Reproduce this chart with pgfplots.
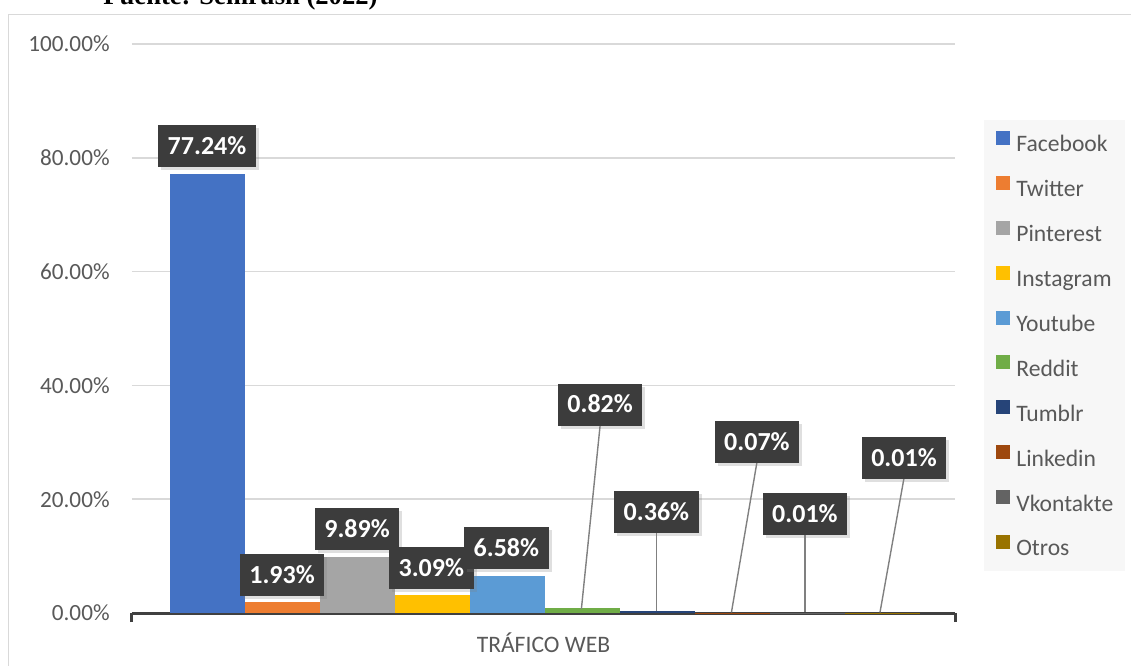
\documentclass[border=0pt]{standalone}
\usepackage{pgfplots}
\pgfplotsset{compat=1.18}
\usepackage{fontspec}
\setmainfont{Carlito}
\newfontfamily\titlefont{Liberation Serif}
\usetikzlibrary{shadows}

\definecolor{cFB}{HTML}{4472C4}
\definecolor{cTW}{HTML}{ED7D31}
\definecolor{cPI}{HTML}{A5A5A5}
\definecolor{cIG}{HTML}{FFC000}
\definecolor{cYT}{HTML}{5B9BD5}
\definecolor{cRD}{HTML}{70AD47}
\definecolor{cTU}{HTML}{264478}
\definecolor{cLI}{HTML}{9E480E}
\definecolor{cVK}{HTML}{636363}
\definecolor{cOT}{HTML}{997300}
\definecolor{txt}{HTML}{595959}
\definecolor{gridc}{HTML}{D9D9D9}
\definecolor{labelbg}{HTML}{3C3C3C}

% label positions (x, y) and value shown
\pgfplotstableread{
x     y      v
1.00  82.10  77.24
2.00  6.68   1.93
3.00  14.76  9.89
3.99  7.90   3.09
4.99  11.40  6.58
6.24  36.60  0.82
6.99  17.75  0.36
8.33  30.05  0.07
8.97  17.40  0.01
10.29 27.20  0.01
}\labels

\begin{document}
\begin{tikzpicture}
\begin{axis}[
  at={(0,0)}, anchor=south west,
  scale only axis, width=411.5pt, height=284.5pt,
  xmin=0, xmax=10.97, ymin=0, ymax=100,
  axis line style={draw=none},
  tick pos=left, tick align=outside, major tick length=4.5pt,
  xtick={0,10.97}, xticklabels={,},
  xtick style={draw=black!75, line width=1.5pt},
  ytick={0,20,...,100}, ytick style={draw=none},
  ymajorgrids, grid style={gridc, line width=0.75pt},
  extra y ticks={0}, extra y tick labels={},
  extra y tick style={grid=major, major grid style={draw=black!75, line width=1.5pt}},
  /pgf/number format/assume math mode=true,
  yticklabel={\pgfmathprintnumber[fixed,fixed zerofill,precision=2]{\tick}\%},
  yticklabel style={font=\fontsize{11.6}{14}\selectfont, text=txt, inner sep=0pt, xshift=-6.5pt},
  xlabel={TRÁFICO WEB},
  x label style={at={(axis description cs:0.5,0)}, anchor=base, yshift=-19.5pt,
    font=\fontsize{11.8}{14}\selectfont, text=txt},
  legend style={at={(1.0352,0.8664)}, anchor=north west, draw=none, fill=black!3,
    font=\fontsize{11.8}{14}\selectfont, text=txt,
    inner xsep=6pt, inner ysep=5.25pt, row sep=9.5pt,
    nodes={inner sep=0pt, text height=9pt, text depth=2.5pt},
    /tikz/every odd column/.append style={column sep=3pt}},
  legend cell align=left,
  legend image code/.code={\fill[#1, draw=none] (0pt,0.2pt) rectangle (7pt,7.2pt);},
  every axis plot/.append style={bar width=1},
]
\addplot[ybar, bar shift=0pt, fill=cFB, draw=none] coordinates {(1,77.24)};
\addlegendentry{Facebook}
\addplot[ybar, bar shift=0pt, fill=cTW, draw=none] coordinates {(2,1.93)};
\addlegendentry{Twitter}
\addplot[ybar, bar shift=0pt, fill=cPI, draw=none] coordinates {(3,9.89)};
\addlegendentry{Pinterest}
\addplot[ybar, bar shift=0pt, fill=cIG, draw=none] coordinates {(4,3.09)};
\addlegendentry{Instagram}
\addplot[ybar, bar shift=0pt, fill=cYT, draw=none] coordinates {(5,6.58)};
\addlegendentry{Youtube}
\addplot[ybar, bar shift=0pt, fill=cRD, draw=none] coordinates {(6,0.82)};
\addlegendentry{Reddit}
\addplot[ybar, bar shift=0pt, fill=cTU, draw=none] coordinates {(7,0.36)};
\addlegendentry{Tumblr}
\addplot[ybar, bar shift=0pt, fill=cLI, draw=none] coordinates {(8,0.07)};
\addlegendentry{Linkedin}
\addplot[ybar, bar shift=0pt, fill=cVK, draw=none] coordinates {(9,0.01)};
\addlegendentry{Vkontakte}
\addplot[ybar, bar shift=0pt, fill=cOT, draw=none] coordinates {(10,0.01)};
\addlegendentry{Otros}

% leader lines
\addplot[forget plot, black!50, line width=0.7pt, no markers] coordinates {(6.24,33.0) (5.99,0.7)};
\addplot[forget plot, black!50, line width=0.7pt, no markers] coordinates {(6.99,14.1) (6.99,0.3)};
\addplot[forget plot, black!50, line width=0.7pt, no markers] coordinates {(8.33,26.5) (7.99,0.1)};
\addplot[forget plot, black!50, line width=0.7pt, no markers] coordinates {(8.97,13.8) (8.97,0.1)};
\addplot[forget plot, black!50, line width=0.7pt, no markers] coordinates {(10.29,23.7) (9.97,0.1)};

% data labels
\addplot[forget plot, draw=none, no markers, point meta=explicit,
  nodes near coords={\pgfmathprintnumber[fixed,fixed zerofill,precision=2]{\pgfplotspointmeta}\%},
  every node near coord/.style={anchor=center, fill=labelbg, text=white,
    font=\fontsize{13}{15}\selectfont\bfseries, inner xsep=4.75pt, inner ysep=0pt,
    minimum height=21pt, text height=8.2pt, text depth=0pt,
    drop shadow={shadow xshift=1.5pt, shadow yshift=-1.5pt, opacity=0.25}}]
  table[x=x, y=y, meta=v] {\labels};
\end{axis}
\draw[gridc] (-62pt,299.5pt) rectangle (510pt,-40pt);
\node[anchor=base west, inner sep=0pt, font=\titlefont\bfseries\fontsize{13.3}{15}\selectfont]
  at (-14.5pt,304pt) {Fuente: Semrush (2022)};
\pgfresetboundingbox
\useasboundingbox (-66pt,-26pt) rectangle (499.5pt,306.5pt);
\end{tikzpicture}
\end{document}
